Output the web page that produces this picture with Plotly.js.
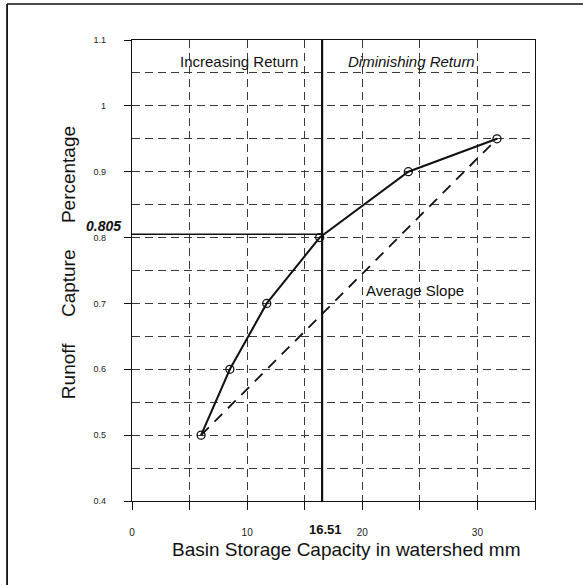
<!DOCTYPE html>
<html>
<head>
<meta charset="utf-8">
<script src="https://cdn.plot.ly/plotly-3.0.1.min.js"></script>
<style>
  html, body { margin: 0; padding: 0; background: #fff; }
  #chart { width: 583px; height: 585px; }
</style>
</head>
<body>
<div id="chart"></div>
<script>
// Runoff capture curve: storage capacity (mm) vs captured fraction
const storageMm = [6.0, 8.5, 11.7, 16.3, 24.0, 31.7];
const capture = [0.5, 0.6, 0.7, 0.8, 0.9, 0.95];

// Average slope between the first and last points
const slopeX = [storageMm[0], storageMm[storageMm.length - 1]];
const slopeY = [capture[0], capture[capture.length - 1]];

// Break point between increasing and diminishing return
const breakX = 16.51;
const breakY = 0.805;

// Axis ticks
const xTickVals = [0, 5, 10, 15, 20, 25, 30, 35];
const xTickText = ['0', '', '10', '', '20', '', '30', ''];
const yTickVals = [0.4, 0.5, 0.6, 0.7, 0.8, 0.9, 1.0, 1.1];
const yTickText = ['0.4', '0.5', '0.6', '0.7', '0.8', '0.9', '1', '1.1'];

const FONT = 'Liberation Sans, Arial, sans-serif';
const INK = '#111';
const GRID = '#3a3a3a';
const GAP = '\u00A0'.repeat(5);

const traces = [
  {
    x: slopeX, y: slopeY, type: 'scatter', mode: 'lines',
    line: { color: INK, width: 1.8, dash: '11px,8px' },
    hoverinfo: 'skip'
  },
  {
    x: [0, breakX], y: [breakY, breakY], type: 'scatter', mode: 'lines',
    line: { color: INK, width: 1.6 }, hoverinfo: 'skip'
  },
  {
    x: [breakX, breakX], y: [0.4, 1.1], type: 'scatter', mode: 'lines',
    line: { color: INK, width: 2.2 }, hoverinfo: 'skip'
  },
  {
    x: storageMm, y: capture, type: 'scatter', mode: 'lines+markers',
    line: { color: INK, width: 2 },
    marker: { symbol: 'circle-open', size: 8, color: INK, line: { width: 1.3, color: INK } }
  }
];

const layout = {
  width: 583, height: 585,
  margin: { l: 132, r: 48, t: 40, b: 84 },
  paper_bgcolor: '#fff', plot_bgcolor: '#fff',
  showlegend: false,
  font: { family: FONT, color: INK },
  xaxis: {
    range: [0, 35], tickmode: 'array', tickvals: xTickVals, ticktext: xTickText,
    ticks: 'outside', ticklen: 8, tickwidth: 1, tickcolor: INK,
    ticklabelstandoff: 14,
    tickfont: { family: FONT, size: 10, color: '#222' },
    showline: true, linecolor: INK, linewidth: 1.2, mirror: true,
    showgrid: true, gridcolor: GRID, gridwidth: 1, griddash: '8px,5px',
    zeroline: false
  },
  yaxis: {
    range: [0.4, 1.1], tickmode: 'array', tickvals: yTickVals, ticktext: yTickText,
    ticks: 'outside', ticklen: 7, tickwidth: 1, tickcolor: INK,
    ticklabelstandoff: 16,
    tickfont: { family: FONT, size: 9, color: '#222' },
    showline: true, linecolor: INK, linewidth: 1.2, mirror: true,
    showgrid: true, gridcolor: GRID, gridwidth: 1, griddash: '8px,5px',
    minor: { dtick: 0.05, showgrid: true, gridcolor: GRID, gridwidth: 1, griddash: '8px,5px', ticks: '' },
    zeroline: false
  },
  annotations: [
    // axis titles
    { x: 0.533, y: -0.106, xref: 'paper', yref: 'paper', showarrow: false,
      text: 'Basin Storage Capacity in watershed mm', xanchor: 'center', yanchor: 'middle',
      font: { family: FONT, size: 19, color: INK } },
    { x: -0.159, y: 0.518, xref: 'paper', yref: 'paper', showarrow: false, textangle: -90,
      xanchor: 'center', yanchor: 'middle',
      text: 'Runoff' + GAP + 'Capture' + GAP + 'Percentage',
      font: { family: FONT, size: 19, color: INK } },
    // region and line labels
    { x: 9.3, y: 1.068, xref: 'x', yref: 'y', text: 'Increasing Return', showarrow: false,
      font: { family: FONT, size: 15, color: INK } },
    { x: 24.3, y: 1.068, xref: 'x', yref: 'y', text: '<i>Diminishing Return</i>', showarrow: false,
      font: { family: FONT, size: 15, color: INK } },
    { x: 24.6, y: 0.72, xref: 'x', yref: 'y', text: 'Average Slope', showarrow: false,
      font: { family: FONT, size: 15, color: INK } },
    { x: 0, y: breakY, xref: 'x', yref: 'y', text: '<b><i>' + breakY.toFixed(3) + '</i></b>', showarrow: false,
      xanchor: 'right', xshift: -9, yshift: 8, font: { family: FONT, size: 14, color: INK } },
    { x: breakX, y: 0.4, xref: 'x', yref: 'y', text: '<b>' + breakX.toFixed(2) + '</b>', showarrow: false,
      yanchor: 'top', xshift: 3, yshift: -19, font: { family: FONT, size: 13, color: INK } }
  ],
  shapes: [
    // frame around the figure (top and left edges)
    { type: 'line', xref: 'paper', yref: 'paper', x0: -0.31, x1: 1.12, y0: 1.078, y1: 1.078,
      line: { color: INK, width: 1.5 } },
    { type: 'line', xref: 'paper', yref: 'paper', x0: -0.31, x1: -0.31, y0: 1.078, y1: -0.2,
      line: { color: INK, width: 1.8 } }
  ]
};

Plotly.newPlot('chart', traces, layout, { staticPlot: true, displayModeBar: false });
</script>
</body>
</html>
